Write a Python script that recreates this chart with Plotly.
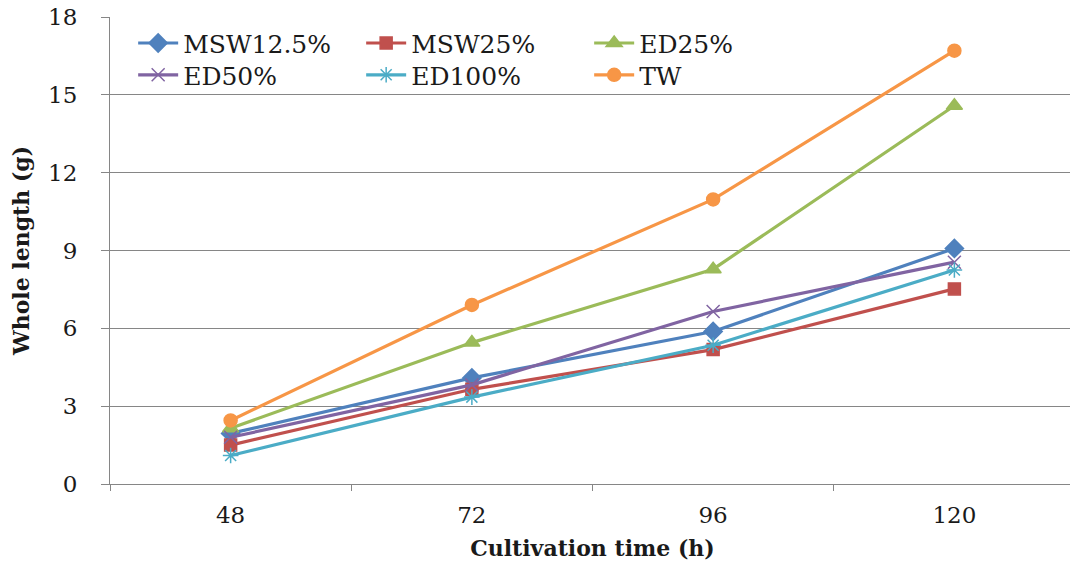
import plotly.graph_objects as go

times = ["48", "72", "96", "120"]
msw125 = [1.95, 4.09, 5.88, 9.08]
msw25 = [1.50, 3.65, 5.18, 7.52]
ed25 = [2.15, 5.45, 8.28, 14.58]
ed50 = [1.80, 3.82, 6.65, 8.55]
ed100 = [1.10, 3.35, 5.35, 8.25]
tw = [2.45, 6.90, 10.97, 16.70]

series = [
    ("MSW12.5%", msw125, "#4F81BD", "diamond", 14, "legend"),
    ("MSW25%", msw25, "#C0504D", "square", 12, "legend"),
    ("ED25%", ed25, "#9BBB59", "triangle-up", 14, "legend"),
    ("ED50%", ed50, "#8064A2", "x-thin-open", 13, "legend2"),
    ("ED100%", ed100, "#4BACC6", "asterisk-open", 13, "legend2"),
    ("TW", tw, "#F79646", "circle", 13, "legend2"),
]

fig = go.Figure()
for name, vals, color, sym, sz, leg in series:
    fig.add_trace(go.Scatter(
        x=times, y=vals, name=name, mode="lines+markers", legend=leg,
        line=dict(color=color, width=3.2),
        marker=dict(symbol=sym, size=sz, color=color,
                    line=dict(color=color, width=1.5)),
    ))

serif = "DejaVu Serif, Liberation Serif, serif"
leg_common = dict(
    orientation="h", xanchor="left", yanchor="top",
    entrywidth=173, entrywidthmode="pixels", itemwidth=40,
    bgcolor="rgba(0,0,0,0)", font=dict(family=serif, size=25, color="#1a1a1a"),
)
fig.update_layout(
    width=1075, height=567,
    margin=dict(l=110, r=0, t=17, b=83),
    paper_bgcolor="white", plot_bgcolor="white",
    font=dict(family=serif, size=20, color="#1a1a1a"),
    showlegend=True,
    legend=dict(x=0.024, y=0.993, **leg_common),
    legend2=dict(x=0.024, y=0.925, **leg_common),
    xaxis=dict(
        type="category", tickson="boundaries", ticks="outside", ticklen=6,
        tickcolor="#868686", showline=True, linecolor="#868686", linewidth=1,
        showgrid=False, range=[-0.5, 3.5], automargin=False,
        ticklabelstandoff=10,
        title=dict(text="<b>Cultivation time (h)</b>", standoff=14,
                   font=dict(family=serif, size=22, color="#1a1a1a")),
        tickfont=dict(family=serif, size=23, color="#1a1a1a"),
    ),
    yaxis=dict(
        range=[0, 18], tickvals=[0, 3, 6, 9, 12, 15, 18], ticks="outside",
        ticklen=8, tickcolor="#868686", showline=True, linecolor="#868686",
        linewidth=1, showgrid=True, gridcolor="#868686", gridwidth=1,
        zeroline=False, ticklabelstandoff=19, automargin=False,
        title=dict(text="<b>Whole length (g)</b>", standoff=12,
                   font=dict(family=serif, size=22, color="#1a1a1a")),
        tickfont=dict(family=serif, size=23, color="#1a1a1a"),
    ),
)

fig.write_html(
    "out.html",
    config={"displayModeBar": False},
    post_script="document.body.style.margin='0px';document.body.style.overflow='hidden';",
)
